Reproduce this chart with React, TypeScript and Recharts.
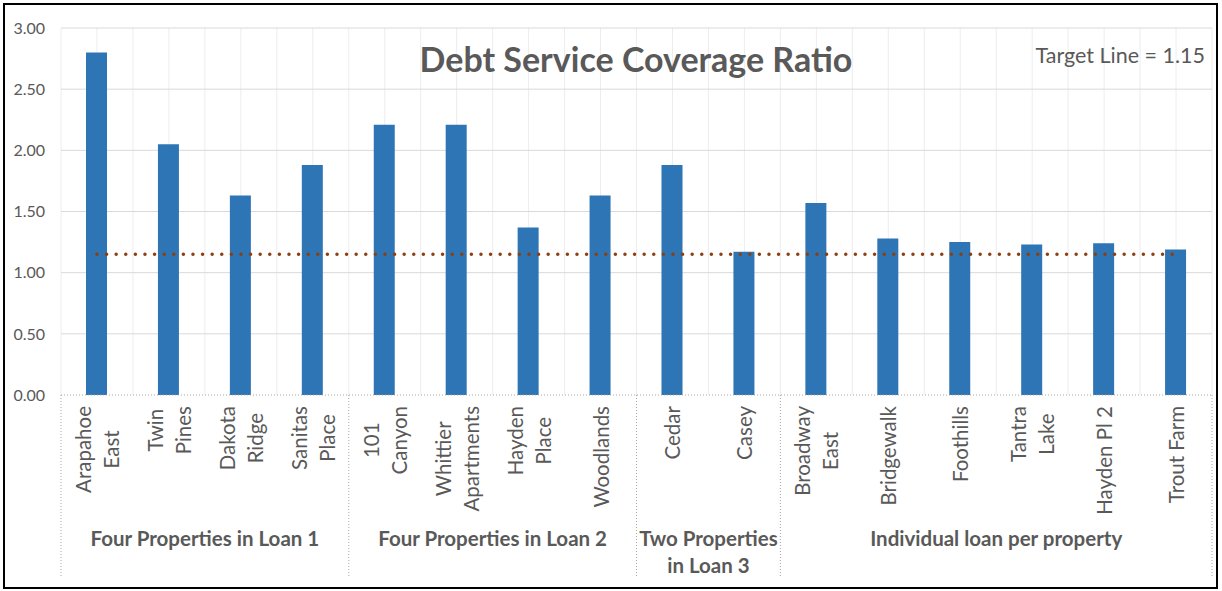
import { BarChart, Bar, Line, XAxis, YAxis, CartesianGrid } from 'recharts'

const categories = [
  'Arapahoe\nEast', 'Twin\nPines', 'Dakota\nRidge', 'Sanitas\nPlace',
  '101\nCanyon', 'Whittier\nApartments', 'Hayden\nPlace', 'Woodlands',
  'Cedar', 'Casey',
  'Broadway\nEast', 'Bridgewalk', 'Foothills', 'Tantra\nLake', 'Hayden Pl 2', 'Trout Farm',
]
const dscr = [2.80, 2.05, 1.63, 1.88, 2.21, 2.21, 1.37, 1.63, 1.88, 1.17, 1.57, 1.28, 1.25, 1.23, 1.24, 1.19]
const target = [1.15, 1.15, 1.15, 1.15, 1.15, 1.15, 1.15, 1.15, 1.15, 1.15, 1.15, 1.15, 1.15, 1.15, 1.15, 1.15]
const groupNames = ['Four Properties in Loan 1', 'Four Properties in Loan 2', 'Two Properties\nin Loan 3', 'Individual loan per property']
const groupSizes = [4, 4, 2, 6]
const yTicks = [0, 0.5, 1, 1.5, 2, 2.5, 3]

const data = categories.map((c, i) => ({ name: c, dscr: dscr[i], target: target[i] }))

const FONT = 'Lato, "Open Sans", sans-serif'
const GREY = '#595959'
const CAT_SIZE = 20.5
const GROUP_SIZE = 20.5

// group start indices
const groupStart: Record<number, number> = {}
let acc = 0
groupSizes.forEach((s, g) => { groupStart[acc] = g; acc += s })

let ctx: CanvasRenderingContext2D | null = null
const measure = (txt: string, font: string) => {
  if (!ctx) ctx = document.createElement('canvas').getContext('2d')
  if (!ctx) return txt.length * 10
  ctx.font = font
  return ctx.measureText(txt).width
}

const CategoryTick = (props: any) => {
  const { x, y, payload, index, width } = props
  const cw = payload && payload.offset ? payload.offset * 2 : width / categories.length
  const axisY = y - 8
  const lines = String(payload.value).split('\n')
  const longest = Math.max(...lines.map((l) => measure(l, `${CAT_SIZE}px Lato`)))
  const cy = axisY + 11 + longest / 2
  const gap = 28
  const g = groupStart[index]
  const sepStyle = { stroke: '#A6A6A6', strokeWidth: 1, strokeDasharray: '1 2' }

  return (
    <g>
      {lines.map((l, i) => {
        const lx = x + (i - (lines.length - 1) / 2) * gap
        return (
          <text key={i} transform={`translate(${lx},${cy}) rotate(-90)`} textAnchor="middle"
            dominantBaseline="central" fontSize={CAT_SIZE} fontFamily={FONT} fill={GREY}>
            {l}
          </text>
        )
      })}
      {g !== undefined && (
        <g>
          <line x1={x - cw / 2} x2={x - cw / 2} y1={axisY} y2={axisY + 182} {...sepStyle} />
          {groupNames[g].split('\n').map((l, i) => (
            <text key={i} x={x - cw / 2 + (groupSizes[g] * cw) / 2} y={axisY + 143 + i * 27}
              textAnchor="middle" dominantBaseline="central" fontSize={GROUP_SIZE}
              fontWeight={700} fontFamily={FONT} fill={GREY}>
              {l}
            </text>
          ))}
        </g>
      )}
      {index === categories.length - 1 && (
        <line x1={x + cw / 2} x2={x + cw / 2} y1={axisY} y2={axisY + 182} {...sepStyle} />
      )}
    </g>
  )
}

export default function App() {
  return (
    <div style={{ position: 'absolute', left: 0, top: 0, width: 1222, height: 591, background: '#fff', fontFamily: FONT }}>
      <BarChart width={1222} height={591} data={data} margin={{ top: 28, right: 10, left: 0, bottom: 0 }}
        style={{ position: 'absolute', left: 0, top: 0 }}>
        <CartesianGrid horizontal={false} stroke="#EDEDED"
          verticalCoordinatesGenerator={({ offset }: any) =>
            Array.from({ length: categories.length * 2 + 1 }, (_, i) => offset.left + (i * offset.width) / (categories.length * 2))} />
        <CartesianGrid vertical={false} stroke="#D9D9D9"
          horizontalCoordinatesGenerator={({ offset }: any) =>
            yTicks.filter((t) => t > 0).map((t) => offset.top + offset.height * (1 - t / 3))} />
        <XAxis dataKey="name" interval={0} height={196} tickLine={false}
          axisLine={{ stroke: '#A6A6A6', strokeDasharray: '1 2' }} tick={<CategoryTick />} />
        <YAxis width={61} domain={[0, 3]} ticks={yTicks} axisLine={false} tickLine={false} tickMargin={10}
          tickFormatter={(v: number) => v.toFixed(2)}
          tick={{ fill: GREY, fontSize: 16, fontFamily: FONT }} />
        <Bar dataKey="dscr" fill="#2E75B6" barSize={21} isAnimationActive={false} />
        <Line dataKey="target" type="linear" stroke="#8B3F0E" strokeWidth={3.5} strokeDasharray="0 9.6"
          strokeLinecap="round" dot={false} activeDot={false} isAnimationActive={false} />
      </BarChart>
      <svg width={1222} height={591} style={{ position: 'absolute', left: 0, top: 0, pointerEvents: 'none' }}>
        <text x={636} y={72} textAnchor="middle" fontSize={34} fontWeight={700} fontFamily={FONT} fill={GREY}>
          Debt Service Coverage Ratio
        </text>
        <text x={1205} y={63} textAnchor="end" fontSize={21.5} fontFamily={FONT} fill={GREY}>
          Target Line = 1.15
        </text>
      </svg>
      <div style={{ position: 'absolute', left: 3, top: 3, width: 1215, height: 586, boxSizing: 'border-box', border: '2px solid #000', pointerEvents: 'none' }} />
    </div>
  )
}
